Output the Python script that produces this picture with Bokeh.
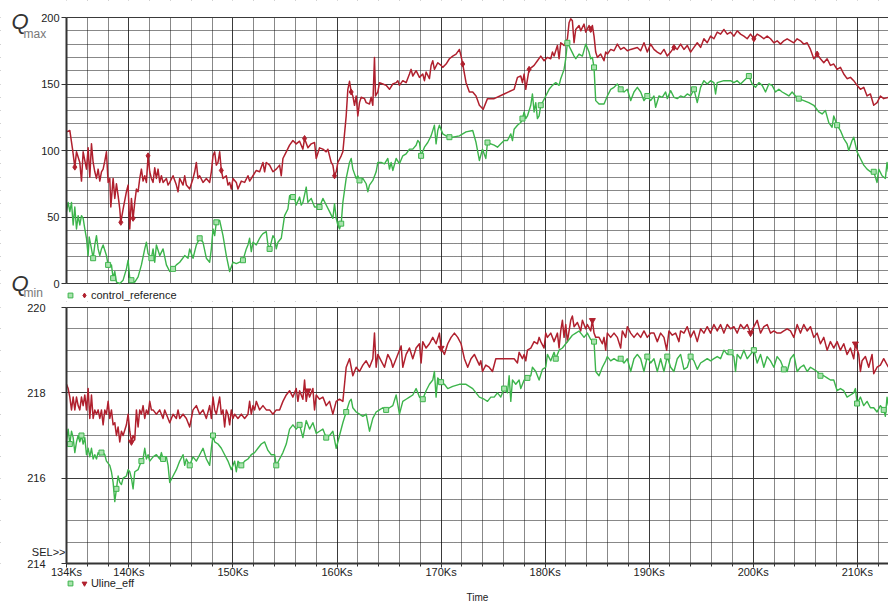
import numpy as np
from bokeh.plotting import figure
from bokeh.layouts import column
from bokeh.models import (Range1d, FixedTicker, PrintfTickFormatter, Legend,
                          LegendItem, Label)
from bokeh.core.properties import value
from bokeh.embed import file_html
from bokeh.resources import INLINE

# ---------------------------------------------------------------------------
# Data: (time in Ks, value) samples for each trace
# ---------------------------------------------------------------------------

# control_reference, run A (green)
ctrl_a = [
    (134.0, 54), (134.16, 61), (134.32, 54), (134.48, 61), (134.64, 44), (134.8, 57.5),
    (134.96, 41), (135.12, 51), (135.28, 44), (135.44, 51), (135.6, 49), (135.76, 41),
    (135.92, 34), (136.08, 21), (136.18, 35), (136.4, 26), (136.56, 19), (136.72, 29),
    (136.88, 36), (137.04, 26), (137.2, 21), (137.36, 26), (137.52, 29), (137.84, 21),
    (138.0, 14), (138.32, 14), (138.48, 4), (138.64, 9), (138.8, 1), (139.12, 0),
    (139.44, 2.5), (139.76, 11), (139.92, 17.5), (140.08, 4), (140.24, 2.5), (140.56, 1),
    (140.88, 5), (141.2, 14), (141.52, 26), (141.68, 31), (141.84, 22.5), (142.16, 19),
    (142.32, 26), (142.48, 16), (142.64, 29), (142.96, 21), (143.28, 26), (143.6, 14),
    (143.92, 9), (144.24, 11), (144.56, 14), (144.88, 16), (145.36, 21), (145.68, 19),
    (145.84, 26), (146.16, 19), (146.48, 29), (146.8, 34), (147.12, 31), (147.44, 19),
    (147.76, 16), (147.92, 26), (148.08, 41), (148.24, 36), (148.4, 46), (148.72, 47.5),
    (149.04, 36), (149.36, 21), (149.68, 9), (150.0, 16), (150.32, 15), (150.64, 16),
    (150.96, 17.5), (151.28, 26), (151.44, 29), (151.6, 34), (151.76, 24), (151.92, 31),
    (152.24, 29), (152.56, 34), (152.72, 36), (152.88, 37.5), (153.2, 39), (153.36, 29),
    (153.52, 26), (153.84, 36), (154.0, 34), (154.16, 26), (154.32, 31), (154.64, 34),
    (154.96, 51), (155.28, 56), (155.44, 66), (155.76, 65), (155.92, 64), (156.08, 59),
    (156.4, 65), (156.56, 59), (156.72, 61), (157.04, 72.5), (157.2, 61), (157.52, 64),
    (157.84, 57.5), (158.32, 57.5), (158.64, 64), (158.96, 59), (159.28, 54), (159.6, 49),
    (159.76, 60), (159.92, 49), (160.08, 44), (160.24, 41), (160.4, 45), (160.56, 61),
    (160.88, 79), (161.2, 91), (161.36, 94), (161.52, 86), (161.84, 79), (162.0, 81),
    (162.16, 77.5), (162.48, 79), (162.8, 75), (162.96, 69), (163.12, 74), (163.44, 77.5),
    (163.76, 84), (163.92, 91), (164.24, 91), (164.56, 90), (164.88, 94), (165.04, 86),
    (165.2, 91), (165.36, 85), (165.68, 94), (166.0, 90), (166.32, 96), (166.64, 97.5),
    (166.96, 101), (167.28, 101), (167.6, 104), (167.76, 107.5), (167.92, 106), (168.08, 96),
    (168.4, 102.5), (168.72, 106), (169.04, 111), (169.36, 119), (169.52, 105), (169.68, 115),
    (169.84, 119), (170.16, 112.5), (170.48, 111), (170.8, 110), (171.12, 110), (171.76, 111),
    (172.4, 114), (173.04, 115), (173.36, 106), (173.68, 92.5), (173.98, 101), (174.3, 94),
    (174.46, 106), (174.78, 105), (175.1, 104), (175.42, 102.5), (175.74, 105), (176.06, 107.5),
    (176.38, 107.5), (176.7, 112.5), (176.86, 107.5), (177.02, 116), (177.34, 119), (177.66, 121),
    (177.82, 124), (177.98, 129), (178.14, 124), (178.3, 126), (178.62, 134), (178.78, 142.5),
    (178.94, 129), (179.1, 136), (179.26, 124), (179.42, 126), (179.58, 134), (179.74, 136),
    (180.06, 141), (180.38, 146), (180.7, 149), (181.02, 151), (181.34, 149), (181.5, 154),
    (181.82, 161), (181.98, 169), (182.14, 181), (182.46, 176), (182.78, 171), (182.94, 169),
    (183.26, 172.5), (183.58, 171), (183.9, 180), (184.22, 174), (184.38, 169), (184.54, 170),
    (184.7, 162.5), (184.86, 137.5), (185.18, 135), (185.66, 135), (185.98, 141), (186.3, 146),
    (186.62, 147.5), (186.94, 150), (187.26, 146), (187.58, 144), (187.9, 146), (188.22, 137.5),
    (188.54, 144), (188.86, 147.5), (189.18, 144), (189.5, 137.5), (189.82, 141), (190.14, 137.5),
    (190.46, 141), (190.62, 132.5), (190.94, 141), (191.26, 140), (191.58, 144), (191.74, 139),
    (192.06, 145), (192.38, 140), (192.7, 139), (193.02, 141), (193.34, 140), (193.66, 142.5),
    (193.98, 141), (194.3, 146), (194.62, 136), (194.94, 147.5), (195.26, 152.5), (195.58, 150),
    (195.9, 152.5), (196.22, 151), (196.38, 142.5), (196.54, 151), (197.18, 152.5), (197.82, 152.5),
    (198.14, 151), (198.46, 152.5), (198.78, 150), (199.1, 152.5), (199.58, 156), (199.9, 150),
    (200.22, 147.5), (200.54, 151), (200.86, 149), (201.18, 144), (201.5, 150), (201.82, 149),
    (202.14, 144), (202.46, 146), (202.78, 144), (203.1, 142.5), (203.42, 141), (203.74, 144),
    (204.06, 141), (204.38, 139), (204.86, 137.5), (205.34, 136), (205.82, 134), (206.3, 129),
    (206.62, 127.5), (206.94, 130), (207.26, 121), (207.58, 117.5), (207.74, 126), (208.06, 119),
    (208.38, 115), (208.7, 109), (209.02, 105), (209.18, 100), (209.5, 107.5), (209.66, 110),
    (209.98, 99), (210.3, 94), (210.62, 89), (210.94, 86), (211.26, 84), (211.58, 84),
    (211.9, 76), (212.06, 86), (212.38, 81), (212.7, 79), (212.86, 91), (212.99, 84),
]

# control_reference, run B (red)
ctrl_b = [
    (134.0, 114), (134.32, 115), (134.58, 101), (134.8, 87.5), (134.96, 99), (135.28, 91),
    (135.44, 77), (135.6, 99), (135.92, 86), (136.08, 102), (136.24, 80), (136.4, 105),
    (136.56, 91), (136.72, 84), (136.88, 79), (137.04, 86), (137.2, 77), (137.36, 84),
    (137.52, 86), (137.68, 92), (137.84, 99), (138.0, 76), (138.16, 79), (138.26, 57.5),
    (138.48, 79), (138.64, 64), (138.8, 75), (138.96, 66), (139.12, 56), (139.22, 46),
    (139.44, 56), (139.76, 69), (139.92, 74), (140.08, 41), (140.24, 64), (140.4, 49),
    (140.56, 61), (140.72, 71), (140.88, 69), (141.04, 79), (141.2, 86), (141.36, 77),
    (141.52, 81), (141.68, 76), (141.84, 96), (142.0, 84), (142.16, 79), (142.32, 76),
    (142.48, 87), (142.64, 79), (142.8, 86), (142.96, 76), (143.12, 81), (143.28, 76),
    (143.6, 79), (143.76, 74), (143.92, 76), (144.24, 81), (144.56, 74), (144.72, 69),
    (144.88, 79), (145.2, 74), (145.36, 81), (145.52, 74), (145.84, 71), (146.16, 79),
    (146.32, 84), (146.48, 91), (146.64, 79), (146.8, 81), (147.12, 76), (147.44, 79),
    (147.76, 76), (147.92, 84), (148.08, 96), (148.24, 99), (148.4, 89), (148.56, 91),
    (148.72, 99), (148.88, 85), (149.04, 79), (149.36, 81), (149.52, 74), (149.68, 76),
    (149.84, 71), (150.0, 79), (150.32, 76), (150.48, 71), (150.8, 77), (151.12, 76),
    (151.44, 81), (151.6, 77), (151.92, 81), (152.24, 85), (152.56, 84), (152.88, 91),
    (153.04, 84), (153.2, 91), (153.52, 89), (153.84, 84), (154.16, 86), (154.48, 89),
    (154.64, 81), (154.8, 94), (155.12, 99), (155.44, 104), (155.76, 107.5), (156.08, 105),
    (156.4, 107), (156.72, 101), (156.88, 109), (157.2, 102), (157.52, 105), (157.84, 106),
    (158.0, 94), (158.32, 102), (158.64, 101), (158.96, 99), (159.12, 101), (159.28, 96),
    (159.44, 91), (159.6, 89), (159.76, 81), (159.92, 84), (160.08, 91), (160.4, 96),
    (160.56, 99), (160.88, 126), (161.04, 146), (161.2, 152), (161.36, 144), (161.52, 141),
    (161.68, 134), (161.84, 141), (162.0, 126), (162.16, 136), (162.32, 140), (162.64, 139),
    (162.8, 136), (163.12, 135), (163.28, 140), (163.44, 134), (163.6, 170), (163.7, 141),
    (163.92, 144), (164.08, 151), (164.4, 150), (164.72, 149), (165.04, 146), (165.36, 150),
    (165.68, 151), (165.84, 152.5), (166.0, 149), (166.32, 152.5), (166.64, 151), (166.96, 157.5),
    (167.12, 161), (167.28, 156), (167.6, 160), (167.92, 155), (168.24, 157.5), (168.4, 152.5),
    (168.56, 159), (168.88, 154), (169.04, 164), (169.2, 167.5), (169.36, 161), (169.68, 166),
    (170.0, 164), (170.16, 162.5), (170.48, 165), (170.8, 169), (171.12, 171), (171.44, 172.5),
    (171.76, 176), (171.92, 171), (172.08, 165), (172.4, 151), (172.72, 144), (173.04, 144),
    (173.36, 141), (173.68, 134), (174.05, 131), (174.46, 139), (175.1, 139), (176.06, 142.5),
    (177.02, 146), (177.34, 155), (177.66, 156), (177.82, 151), (177.98, 157.5), (178.14, 146),
    (178.46, 161), (178.94, 164), (179.26, 167.5), (179.58, 171), (179.9, 167.5), (180.22, 170),
    (180.54, 169), (180.7, 174), (180.86, 171), (181.18, 179), (181.34, 169), (181.5, 181),
    (181.82, 179), (182.14, 184), (182.3, 196), (182.46, 199), (182.62, 197.5), (182.78, 181),
    (182.94, 191), (183.26, 194), (183.42, 190), (183.74, 195), (183.9, 189), (184.22, 194),
    (184.38, 191), (184.54, 194), (184.7, 186), (184.86, 174), (185.02, 170), (185.34, 172.5),
    (185.66, 167.5), (185.82, 174), (185.98, 172.5), (186.3, 176), (186.62, 175), (186.94, 180),
    (187.26, 176), (187.58, 177.5), (187.9, 175), (188.22, 176), (188.86, 177.5), (189.18, 175),
    (189.5, 181), (189.82, 174), (190.14, 180), (190.46, 176), (190.78, 174), (191.1, 172.5),
    (191.42, 176), (191.74, 171), (192.06, 174), (192.38, 177.5), (192.7, 176), (193.02, 180),
    (193.34, 176), (193.66, 179), (193.98, 174), (194.3, 177.5), (194.62, 181), (194.94, 177.5),
    (195.26, 184), (195.58, 181), (195.9, 186), (196.22, 184), (196.54, 189), (196.86, 187.5),
    (197.18, 191), (197.5, 187.5), (197.82, 189), (198.14, 186), (198.46, 190), (198.78, 187.5),
    (199.1, 186), (199.42, 184), (199.74, 187.5), (200.06, 184), (200.38, 187.5), (200.7, 186),
    (201.02, 184), (201.34, 186), (201.66, 184), (201.98, 181), (202.3, 182.5), (202.62, 180),
    (202.94, 182.5), (203.26, 184), (203.58, 182.5), (203.9, 181), (204.22, 184), (204.54, 182.5),
    (204.86, 180), (205.18, 181), (205.5, 176), (205.82, 169), (206.14, 172.5), (206.46, 169),
    (206.78, 166), (207.1, 169), (207.42, 164), (207.74, 165), (208.06, 161), (208.38, 162.5),
    (208.7, 157.5), (209.02, 154), (209.34, 155), (209.66, 152.5), (209.98, 149), (210.3, 146),
    (210.62, 147.5), (210.94, 141), (211.26, 142.5), (211.58, 134), (211.9, 136), (212.22, 141),
    (212.54, 139), (212.99, 140),
]

# Uline_eff, run A (green)
uline_a = [
    (134.0, 216.85), (134.16, 217.15), (134.32, 216.8), (134.48, 217.1), (134.64, 216.95),
    (134.8, 216.6), (134.96, 216.85), (135.12, 217.0), (135.28, 216.85), (135.44, 217.0),
    (135.6, 216.8), (135.76, 216.95), (135.92, 216.55), (136.08, 216.7), (136.24, 216.5),
    (136.4, 216.7), (136.56, 216.45), (136.72, 216.55), (136.88, 216.45), (137.04, 216.6),
    (137.2, 216.55), (137.36, 216.6), (137.52, 216.6), (137.68, 216.55), (137.84, 216.4),
    (138.16, 216.3), (138.32, 216.15), (138.48, 215.9), (138.64, 215.45), (138.8, 215.75),
    (138.96, 216.05), (139.12, 215.9), (139.28, 215.85), (139.44, 216.0), (139.76, 216.05),
    (139.92, 216.2), (140.08, 216.15), (140.24, 216.0), (140.4, 215.75), (140.56, 216.15),
    (140.88, 216.2), (141.04, 216.3), (141.2, 216.4), (141.36, 216.45), (141.52, 216.7),
    (141.68, 216.45), (141.84, 216.55), (142.0, 216.4), (142.32, 216.5), (142.64, 216.55),
    (142.96, 216.45), (143.12, 216.6), (143.28, 216.45), (143.6, 216.5), (143.76, 216.3),
    (143.92, 215.9), (144.24, 216.05), (144.56, 216.2), (144.88, 216.4), (145.2, 216.55),
    (145.36, 216.3), (145.52, 216.45), (145.84, 216.3), (146.16, 216.5), (146.48, 216.4),
    (146.8, 216.55), (147.12, 216.7), (147.44, 216.45), (147.76, 216.3), (147.92, 216.7),
    (148.08, 217.0), (148.24, 216.85), (148.56, 216.8), (148.88, 216.7), (149.2, 216.55),
    (149.52, 216.4), (149.84, 216.2), (150.16, 216.4), (150.32, 216.15), (150.48, 216.4),
    (150.8, 216.3), (151.12, 216.4), (151.44, 216.45), (151.76, 216.55), (152.08, 216.6),
    (152.4, 216.7), (152.72, 216.8), (153.04, 216.85), (153.36, 216.65), (153.68, 216.55),
    (154.0, 216.55), (154.16, 216.3), (154.48, 216.45), (154.8, 216.6), (155.12, 216.8),
    (155.44, 217.15), (155.76, 217.25), (156.08, 217.15), (156.4, 217.25), (156.72, 216.95),
    (157.04, 217.35), (157.36, 217.15), (157.68, 217.3), (158.0, 217.05), (158.32, 217.1),
    (158.64, 217.15), (158.96, 216.95), (159.28, 217.0), (159.6, 217.1), (159.92, 216.7),
    (160.24, 217.0), (160.56, 217.3), (160.88, 217.55), (161.2, 217.8), (161.36, 217.85),
    (161.52, 217.65), (161.84, 217.55), (162.16, 217.5), (162.48, 217.45), (162.8, 217.5),
    (163.12, 217.1), (163.44, 217.4), (163.76, 217.55), (164.08, 217.6), (164.4, 217.65),
    (164.72, 217.6), (165.04, 217.65), (165.36, 217.7), (165.68, 217.95), (166.0, 217.5),
    (166.32, 217.8), (166.64, 217.85), (166.96, 217.9), (167.28, 217.95), (167.6, 218.1),
    (167.92, 217.9), (168.24, 217.85), (168.56, 218.05), (168.88, 218.2), (169.2, 218.3),
    (169.36, 218.5), (169.52, 217.9), (169.68, 218.35), (170.0, 218.25), (170.32, 218.2),
    (170.64, 218.1), (171.12, 218.15), (171.76, 218.2), (172.4, 218.2), (173.04, 218.1),
    (173.68, 217.9), (174.14, 217.85), (174.46, 217.8), (174.78, 217.9), (175.1, 217.9),
    (175.42, 218.0), (175.74, 217.9), (176.06, 218.1), (176.38, 218.0), (176.54, 218.4),
    (176.7, 217.8), (176.86, 218.3), (177.18, 218.2), (177.5, 218.3), (177.66, 218.1),
    (177.98, 218.3), (178.3, 218.35), (178.62, 218.4), (178.78, 218.6), (179.1, 218.5),
    (179.42, 218.3), (179.74, 218.55), (180.06, 218.6), (180.22, 218.9), (180.54, 218.75),
    (180.86, 218.95), (181.02, 218.8), (181.34, 219.0), (181.66, 219.05), (181.98, 219.15),
    (182.3, 219.25), (182.62, 219.35), (182.94, 219.4), (183.26, 219.45), (183.42, 219.4),
    (183.74, 219.3), (184.06, 219.4), (184.38, 219.25), (184.7, 219.2), (184.86, 218.5),
    (185.18, 218.4), (185.5, 218.6), (185.82, 218.75), (185.98, 218.85), (186.3, 218.75),
    (186.62, 218.8), (186.94, 218.75), (187.26, 218.8), (187.58, 218.7), (187.9, 218.8),
    (188.22, 218.5), (188.54, 218.8), (188.86, 218.9), (189.18, 218.8), (189.5, 218.5),
    (189.82, 218.85), (190.14, 218.7), (190.46, 218.8), (190.78, 218.5), (191.1, 218.8),
    (191.42, 218.5), (191.74, 218.85), (192.06, 218.6), (192.38, 218.5), (192.7, 218.8),
    (193.02, 218.9), (193.34, 218.55), (193.66, 218.6), (193.98, 218.85), (194.3, 218.75),
    (194.62, 218.55), (194.94, 218.7), (195.26, 218.75), (195.58, 218.8), (195.9, 218.75),
    (196.22, 218.8), (196.54, 218.85), (196.86, 218.8), (197.18, 219.0), (197.5, 218.9),
    (197.82, 218.95), (198.14, 218.85), (198.3, 218.5), (198.46, 218.9), (198.78, 218.8),
    (199.1, 219.0), (199.42, 218.8), (199.74, 218.9), (200.06, 219.0), (200.38, 218.7),
    (200.7, 218.9), (201.02, 218.6), (201.34, 218.85), (201.66, 218.75), (201.98, 218.6),
    (202.3, 218.85), (202.62, 218.75), (202.94, 218.55), (203.26, 218.5), (203.58, 218.8),
    (203.9, 218.9), (204.22, 218.5), (204.54, 218.6), (204.86, 218.65), (205.18, 218.5),
    (205.5, 218.6), (205.82, 218.55), (206.14, 218.5), (206.46, 218.4), (206.78, 218.4),
    (207.1, 218.35), (207.42, 218.3), (207.74, 218.3), (208.06, 218.05), (208.38, 218.1),
    (208.7, 218.05), (209.02, 217.9), (209.34, 217.95), (209.66, 218.0), (209.82, 218.1),
    (209.98, 217.75), (210.3, 217.9), (210.62, 217.7), (210.94, 217.8), (211.26, 217.65),
    (211.58, 217.65), (211.9, 217.55), (212.22, 217.7), (212.54, 217.6), (212.7, 217.45),
    (212.86, 217.9), (212.99, 217.7),
]

# Uline_eff, run B (red)
uline_b = [
    (134.0, 218.2), (134.16, 218.1), (134.32, 217.9), (134.48, 217.6), (134.64, 217.9),
    (134.8, 217.6), (134.96, 217.9), (135.12, 217.7), (135.28, 217.6), (135.44, 217.9),
    (135.6, 217.7), (135.76, 217.95), (135.92, 217.6), (136.08, 218.1), (136.24, 217.4),
    (136.4, 217.95), (136.56, 217.4), (136.72, 217.6), (136.88, 217.5), (137.04, 217.6),
    (137.2, 217.4), (137.36, 217.6), (137.52, 217.25), (137.68, 217.6), (137.84, 217.5),
    (138.0, 217.8), (138.16, 217.4), (138.32, 217.6), (138.48, 217.25), (138.64, 217.3),
    (138.8, 217.0), (138.96, 217.2), (139.12, 216.85), (139.28, 217.1), (139.44, 217.0),
    (139.76, 217.25), (139.92, 217.5), (140.08, 217.1), (140.24, 216.85), (140.4, 217.0),
    (140.56, 216.9), (140.72, 217.6), (140.88, 217.2), (141.04, 217.6), (141.2, 217.5),
    (141.36, 217.7), (141.52, 217.4), (141.68, 217.6), (141.84, 217.5), (142.0, 217.8),
    (142.16, 217.6), (142.32, 217.6), (142.64, 217.5), (142.96, 217.6), (143.28, 217.4),
    (143.44, 217.6), (143.6, 217.5), (143.92, 217.3), (144.24, 217.5), (144.56, 217.4),
    (144.72, 217.6), (144.88, 217.4), (145.2, 217.5), (145.52, 217.4), (145.84, 217.2),
    (146.16, 217.6), (146.48, 217.7), (146.8, 217.5), (147.12, 217.6), (147.44, 217.4),
    (147.76, 217.7), (147.92, 217.4), (148.08, 217.9), (148.24, 217.6), (148.4, 217.5),
    (148.56, 217.7), (148.72, 217.9), (148.88, 217.5), (149.04, 217.6), (149.2, 217.2),
    (149.36, 217.6), (149.52, 217.5), (149.68, 217.25), (149.84, 217.6), (150.0, 217.4),
    (150.16, 217.5), (150.48, 217.4), (150.8, 217.5), (151.12, 217.4), (151.44, 217.5),
    (151.6, 217.8), (151.76, 217.5), (151.92, 217.7), (152.08, 217.6), (152.24, 217.8),
    (152.56, 217.6), (152.88, 217.7), (153.2, 217.6), (153.52, 217.6), (153.84, 217.5),
    (154.16, 217.6), (154.48, 217.6), (154.8, 217.8), (155.12, 217.95), (155.44, 218.05),
    (155.76, 217.9), (156.08, 218.1), (156.24, 217.8), (156.4, 218.05), (156.72, 217.85),
    (156.88, 218.3), (157.04, 217.8), (157.2, 218.05), (157.36, 217.9), (157.68, 218.1),
    (157.84, 217.6), (158.0, 217.95), (158.32, 217.85), (158.64, 217.9), (158.96, 217.7),
    (159.28, 217.8), (159.6, 217.5), (159.92, 217.8), (160.24, 217.85), (160.56, 217.8),
    (160.72, 218.2), (160.88, 218.6), (161.2, 218.8), (161.52, 218.4), (161.84, 218.6),
    (162.16, 218.5), (162.48, 218.65), (162.8, 218.75), (163.12, 218.6), (163.44, 218.8),
    (163.6, 219.4), (163.76, 218.6), (163.92, 218.9), (164.24, 218.75), (164.56, 218.6),
    (164.88, 218.9), (165.2, 218.75), (165.36, 218.6), (165.68, 218.8), (166.0, 219.0),
    (166.16, 219.1), (166.32, 218.6), (166.64, 218.9), (166.96, 219.05), (167.28, 218.8),
    (167.6, 219.05), (167.92, 219.15), (168.08, 218.7), (168.24, 219.2), (168.56, 219.05),
    (168.88, 219.15), (169.2, 219.3), (169.52, 219.15), (169.84, 219.4), (170.0, 219.05),
    (170.32, 218.9), (170.64, 219.15), (170.96, 219.3), (171.28, 219.4), (171.6, 219.3),
    (171.92, 219.15), (172.24, 218.8), (172.56, 218.6), (172.88, 218.8), (173.2, 218.9),
    (173.68, 218.65), (173.82, 218.75), (173.98, 218.5), (174.3, 218.65), (174.62, 218.6),
    (174.94, 218.5), (175.26, 218.8), (175.74, 218.8), (176.38, 218.8), (177.02, 218.8),
    (177.34, 218.7), (177.5, 218.95), (177.82, 218.8), (177.98, 218.9), (178.14, 218.75),
    (178.3, 219.0), (178.62, 219.05), (178.94, 219.2), (179.26, 219.15), (179.42, 219.3),
    (179.58, 219.2), (179.9, 219.05), (180.06, 219.4), (180.22, 219.3), (180.54, 219.4),
    (180.86, 219.2), (181.18, 219.4), (181.34, 219.05), (181.5, 219.45), (181.66, 219.7),
    (181.82, 219.3), (181.98, 219.6), (182.14, 219.2), (182.46, 219.7), (182.62, 219.8),
    (182.78, 219.55), (183.1, 219.65), (183.42, 219.45), (183.58, 219.7), (183.9, 219.5),
    (184.06, 219.6), (184.38, 219.45), (184.54, 219.7), (184.7, 219.4), (184.86, 219.3),
    (185.18, 219.3), (185.5, 219.15), (185.66, 219.3), (185.82, 219.0), (185.98, 219.4),
    (186.3, 219.3), (186.62, 219.4), (186.94, 219.3), (187.26, 219.05), (187.42, 219.45),
    (187.74, 219.3), (187.9, 219.55), (188.22, 219.4), (188.54, 219.3), (188.86, 219.4),
    (189.18, 219.3), (189.5, 219.45), (189.82, 219.3), (190.14, 219.4), (190.46, 219.4),
    (190.78, 219.2), (191.1, 219.4), (191.42, 219.3), (191.68, 219.0), (191.9, 219.45),
    (192.22, 219.35), (192.54, 219.4), (192.86, 219.2), (193.02, 219.45), (193.34, 219.4),
    (193.66, 219.55), (193.98, 219.3), (194.3, 219.45), (194.62, 219.2), (194.94, 219.5),
    (195.26, 219.4), (195.58, 219.55), (195.9, 219.4), (196.22, 219.6), (196.54, 219.45),
    (196.86, 219.6), (197.18, 219.4), (197.5, 219.6), (197.82, 219.5), (198.14, 219.55),
    (198.46, 219.4), (198.78, 219.6), (199.1, 219.5), (199.42, 219.6), (199.74, 219.4),
    (200.06, 219.55), (200.38, 219.7), (200.7, 219.4), (201.02, 219.55), (201.34, 219.6),
    (201.66, 219.4), (201.98, 219.45), (202.3, 219.4), (202.62, 219.4), (202.94, 219.45),
    (203.26, 219.5), (203.58, 219.45), (203.9, 219.3), (204.22, 219.6), (204.54, 219.4),
    (204.86, 219.6), (205.18, 219.45), (205.5, 219.55), (205.82, 219.3), (206.14, 219.4),
    (206.46, 219.15), (206.78, 219.3), (207.1, 219.0), (207.42, 219.2), (207.74, 219.05),
    (208.06, 219.2), (208.38, 219.0), (208.7, 219.15), (209.02, 218.9), (209.34, 219.05),
    (209.66, 218.8), (209.82, 219.15), (210.14, 218.9), (210.3, 218.5), (210.46, 218.75),
    (210.78, 218.85), (211.1, 218.6), (211.42, 218.9), (211.58, 218.45), (211.9, 218.6),
    (212.22, 218.65), (212.54, 218.8), (212.99, 218.6),
]

# Sample times (Ks) that carry a point marker on each trace
ctrl_a_marks = [136.56, 138.0, 138.48, 140.24, 142.16, 144.24, 146.8, 148.56, 150.96,
                153.52, 155.76, 158.32, 160.4, 162.16, 168.24, 170.8, 174.46, 177.82,
                179.58, 182.14, 184.7, 187.26, 189.82, 194.3, 199.58, 204.38, 208.06, 211.58]
ctrl_b_marks = [134.8, 139.22, 140.4, 141.84, 148.88, 156.88, 159.76, 161.36, 172.08,
                178.46, 184.38, 192.38, 200.06, 206.14]
uline_a_marks = [134.32, 135.44, 137.36, 138.8, 141.2, 143.44, 145.84, 148.08, 150.8,
                 154.16, 156.4, 158.96, 160.88, 164.88, 168.08, 170.16, 176.06, 178.3,
                 181.18, 184.7, 187.42, 189.82, 191.74, 193.98, 197.82, 200.22, 202.94,
                 206.46, 209.98, 212.54]
uline_b_marks = [140.24, 157.2, 170.0, 184.54, 199.74, 209.82]

# Axis ticks
time_ticks = [134, 140, 150, 160, 170, 180, 190, 200, 210]
q_ticks = [0, 50, 100, 150, 200]
u_ticks = [214, 216, 218, 220]

# ---------------------------------------------------------------------------
GREEN = "#3cb44b"
GREEN_LIGHT = "#a9e2ae"
RED = "#b0202e"
FONT = "Liberation Sans"
INK = "#222222"

T_LO, T_HI = 134, 213
Q_LO, Q_HI = 0, 200
U_LO, U_HI = 214, 220
time_minor = [t for t in range(136, T_HI, 2) if t % 10 != 0]
q_minor = [q for q in range(10, 200, 10) if q % 50 != 0]
u_minor = [214.5, 215, 215.5, 216.5, 217, 217.5, 218.5, 219, 219.5]

# Page geometry (px): each panel's frame spans its whole canvas, the plotting
# area sits inside it and the margins hold the axes, legends and side texts.
W = 888
LEFT = 66                     # plotting area starts here
H1, TOP1, BOT1 = 301, 17, 283  # upper panel: canvas height, area top/bottom
H2, TOP2, BOT2 = 303, 6, 262   # lower panel

KX = (W - LEFT) / (T_HI - T_LO)
X0 = T_LO - LEFT / KX
X1 = X0 + W / KX
K1 = (BOT1 - TOP1) / (Q_HI - Q_LO)
K2 = (BOT2 - TOP2) / (U_HI - U_LO)
y1_range = Range1d(Q_LO - (H1 - BOT1) / K1, Q_HI + TOP1 / K1)
y2_range = Range1d(U_LO - (H2 - BOT2) / K2, U_HI + TOP2 / K2)


def split(series):
    t, v = zip(*series)
    return np.array(t), np.array(v)


def marks(series, times):
    t, v = split(series)
    idx = [int(np.argmin(np.abs(t - m))) for m in times]
    return t[idx], v[idx]


def make_panel(height, y_range, lo, hi, k, yticks, yminor, standoff):
    p = figure(width=W, height=height, x_range=Range1d(X0, X1), y_range=y_range,
               output_backend="svg", toolbar_location=None,
               min_border_left=0, min_border_right=0, min_border_top=0, min_border_bottom=0)
    p.background_fill_color = "white"
    p.border_fill_color = "white"
    p.outline_line_color = None
    p.xgrid.ticker = FixedTicker(ticks=time_ticks, minor_ticks=time_minor)
    p.ygrid.ticker = FixedTicker(ticks=yticks, minor_ticks=yminor)
    for g in (p.xgrid, p.ygrid):
        g.grid_line_color = "#3a3a3a"
        g.grid_line_width = 1
        g.minor_grid_line_color = "#111111"
        g.minor_grid_line_dash = "1 1"
        g.minor_grid_line_width = 1
    # white margins around the plotting area hide the grid outside it
    half = 0.5 / k
    p.quad(left=[X0, X0, X0], right=[T_LO, X1, X1],
           bottom=[y_range.start, hi + half, y_range.start],
           top=[y_range.end, y_range.end, lo - half],
           fill_color="white", line_color=None)
    ax = p.yaxis[0]
    ax.fixed_location = T_LO
    ax.bounds = (lo, hi)
    ax.ticker = FixedTicker(ticks=yticks)
    ax.axis_line_color = "#333333"
    ax.axis_line_width = 2
    ax.major_tick_out = 5
    ax.major_tick_in = 0
    ax.minor_tick_out = 0
    ax.minor_tick_in = 0
    ax.major_tick_line_color = "#333333"
    ax.major_label_standoff = standoff
    ax.major_label_text_font = FONT
    ax.major_label_text_font_size = "11px"
    ax.major_label_text_color = INK
    return p


def legend(items, bottom_gap):
    # screen position relative to the frame's bottom-left corner
    return Legend(items=items, orientation="horizontal", location=(LEFT - 2, bottom_gap),
                  glyph_width=12, glyph_height=12, label_height=12, label_width=0,
                  label_standoff=1, spacing=0, padding=0, margin=0,
                  border_line_color=None, background_fill_alpha=0,
                  label_text_font=FONT, label_text_font_size="11px",
                  label_text_color=INK)


def add_traces(p, a, b, a_marks, b_marks, b_marker):
    ta, va = split(a)
    tb, vb = split(b)
    p.line(tb, vb, line_color=RED, line_width=1.5, line_join="round")
    p.line(ta, va, line_color=GREEN, line_width=1.4, line_join="round")
    mx, my = marks(a, a_marks)
    ga = p.scatter(mx, my, marker="square", size=5, line_color=GREEN,
                   fill_color=GREEN_LIGHT, line_width=1)
    mx, my = marks(b, b_marks)
    gb = p.scatter(mx, my, marker=b_marker, size=6, line_color=RED,
                   fill_color=RED, line_width=1)
    return ga, gb


def text(p, y_range, x, y, txt, size, color="#333333", style="normal", align="left"):
    # x, y in canvas pixels of the panel
    p.add_layout(Label(x=X0 + x / KX, y=y_range.end - y * (y_range.end - y_range.start) / p.height,
                       text=txt, text_font=FONT, text_font_size=size, text_font_style=style,
                       text_color=color, text_align=align, text_baseline="alphabetic"))


# --- upper panel: control_reference -----------------------------------------
p1 = make_panel(H1, y1_range, Q_LO, Q_HI, K1, q_ticks, q_minor, 2)
p1.xaxis.visible = False
ga, gb = add_traces(p1, ctrl_a, ctrl_b, ctrl_a_marks, ctrl_b_marks, "diamond")
p1.add_layout(legend([LegendItem(label=value("\u200a"), renderers=[ga]),
                      LegendItem(label=value("control_reference"), renderers=[gb])], 0))
text(p1, y1_range, 11, 21, "Q", "22px", style="italic")
text(p1, y1_range, 23, 33, "max", "12px", color="#777777")
text(p1, y1_range, 11, 283, "Q", "22px", style="italic")
text(p1, y1_range, 23, 292, "min", "12px", color="#777777")

# --- lower panel: Uline_eff ---------------------------------------------------
p2 = make_panel(H2, y2_range, U_LO, U_HI, K2, u_ticks, u_minor, 16)
xa = p2.xaxis[0]
xa.fixed_location = U_LO
xa.bounds = (T_LO, T_HI)
xa.ticker = FixedTicker(ticks=time_ticks, minor_ticks=time_minor)
xa.formatter = PrintfTickFormatter(format="%dKs")
xa.axis_line_color = "#333333"
xa.axis_line_width = 2
xa.major_tick_out = 4
xa.major_tick_in = 0
xa.minor_tick_out = 3
xa.minor_tick_in = 0
xa.major_tick_line_color = "#333333"
xa.minor_tick_line_color = "#333333"
xa.major_label_standoff = -2
xa.major_label_text_font = FONT
xa.major_label_text_font_size = "11px"
xa.major_label_text_color = INK
xa.axis_label = "Time"
xa.axis_label_standoff = 11
xa.axis_label_text_font = FONT
xa.axis_label_text_font_size = "10px"
xa.axis_label_text_font_style = "normal"
xa.axis_label_text_color = INK
ua, ub = add_traces(p2, uline_a, uline_b, uline_a_marks, uline_b_marks, "inverted_triangle")
p2.add_layout(legend([LegendItem(label=value("\u200a"), renderers=[ua]),
                      LegendItem(label=value("Uline_eff"), renderers=[ub])], 15))
text(p2, y2_range, 65, 250, "SEL>>", "11px", color=INK, align="right")

layout = column(p1, p2, spacing=0)
open("out.html", "w").write(file_html(layout, INLINE))
